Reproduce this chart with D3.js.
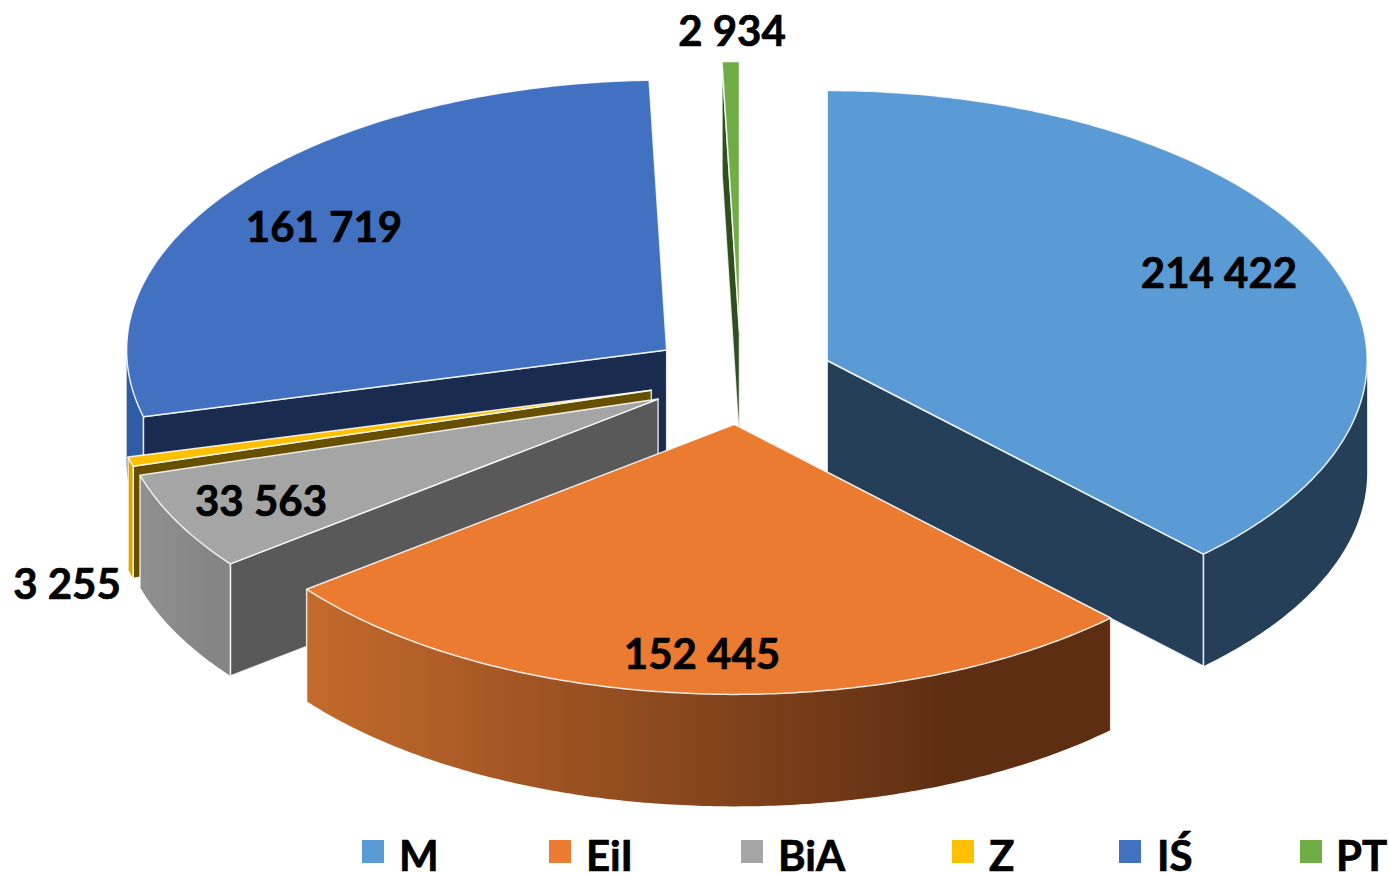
<!DOCTYPE html>
<html>
<head>
<meta charset="utf-8">
<script src="https://d3js.org/d3.v7.min.js"></script>
<style>
  html, body { margin: 0; padding: 0; background: #fff; overflow: hidden; }
  svg { display: block; }
  text { font-family: Lato, "Open Sans", sans-serif; font-weight: 700; fill: #000; stroke: #000; stroke-width: 0.7px; }
</style>
</head>
<body>
<script>
// data
var categories = ["M", "EiI", "BiA", "Z", "IŚ", "PT"];
var values = [214422, 152445, 33563, 3255, 161719, 2934];
var valueLabels = ["214 422", "152 445", "33 563", "3 255", "161 719", "2 934"];

// colours
var topColors = ["#5b9bd5", "#ea7b30", "#a5a5a5", "#ffc000", "#4271c1", "#70ad47"];
var sideColors = ["#243f57", "#5e2e12", "#595959", "#665000", "#1a2b50", "#2f4f1e"];
var wallFrom = ["#243f57", "#c46a2c", "#909090", "#e3ab00", "#2f5ca6", "#2f4f1e"];
var wallTo = ["#243f57", "#5e2e12", "#858585", "#d9a300", "#2f5ca6", "#2f4f1e"];

// layout
var width = 1389, height = 873;
var cx = 741, cy = 378;      // pie centre before explosion
var rx = 540, ry = 270;      // tilted pie ellipse
var depth = 112;
var explode = 93;            // same pull-out for all slices
var labelX = [1219, 702, 261, 67, 324, 732];
var labelY = [272, 653, 500, 583, 226, 30];
var legendX = [362, 549, 741, 952, 1119, 1300];
var legendTextX = [399, 586, 778, 989, 1157, 1336];
var drawOrder = [5, 4, 0, 3, 2, 1];   // back to front

var svg = d3.select("body").append("svg")
  .attr("width", width)
  .attr("height", height);

var defs = svg.append("defs");

var slices = d3.pie().sort(null)(values);

// angle measured clockwise from top
var sx = d3.scaleLinear().domain([-1, 1]).range([-rx, rx]);
var sy = d3.scaleLinear().domain([-1, 1]).range([-ry, ry]);

var line = d3.line();

function apex(s) {
  var mid = (s.startAngle + s.endAngle) / 2;
  return [cx + explode / rx * sx(Math.sin(mid)), cy - explode / rx * sy(Math.cos(mid))];
}

function rim(o, a, dy) {
  return [o[0] + sx(Math.sin(a)), o[1] - sy(Math.cos(a)) + dy];
}

function arcPoints(o, a0, a1, dy) {
  var n = Math.max(2, Math.ceil((a1 - a0) / 0.01));
  return d3.range(n + 1).map(function(i) {
    return rim(o, a0 + (a1 - a0) * i / n, dy);
  });
}

function radialFace(o, a) {
  return [o, rim(o, a, 0), rim(o, a, depth), [o[0], o[1] + depth]];
}

drawOrder.forEach(function(i) {
  var s = slices[i];
  var o = apex(s);
  var g = svg.append("g").attr("class", "slice");

  // flat side faces, just the ones turned to the viewer
  var faces = [];
  if (s.startAngle > Math.PI) faces.push(s.startAngle);
  if (s.endAngle < Math.PI) faces.push(s.endAngle);
  faces.forEach(function(a) {
    g.append("path")
      .attr("d", line(radialFace(o, a)) + "Z")
      .attr("fill", sideColors[i])
      .attr("stroke", "#fff")
      .attr("stroke-width", 1.5)
      .attr("stroke-opacity", 0.8)
      .attr("stroke-linejoin", "round");
  });

  // outer wall, only the part facing the viewer
  var w0 = Math.max(s.startAngle, Math.PI / 2);
  var w1 = Math.min(s.endAngle, Math.PI * 1.5);
  if (w1 > w0) {
    var upper = arcPoints(o, w0, w1, 0);
    var lower = arcPoints(o, w0, w1, depth).reverse();
    var xr = d3.extent(upper, function(p) { return p[0]; });

    var grad = defs.append("linearGradient")
      .attr("id", "wall" + i)
      .attr("gradientUnits", "userSpaceOnUse")
      .attr("x1", xr[0]).attr("x2", xr[1])
      .attr("y1", 0).attr("y2", 0);
    grad.append("stop").attr("offset", 0).attr("stop-color", wallFrom[i]);
    grad.append("stop").attr("offset", 0.8).attr("stop-color", wallTo[i]);

    g.append("path")
      .attr("d", line(upper.concat(lower)) + "Z")
      .attr("fill", "url(#wall" + i + ")");

    // light edges at the wall ends
    [w0, w1].forEach(function(a) {
      if (a == s.startAngle || a == s.endAngle) {
        g.append("path")
          .attr("d", line([rim(o, a, 0), rim(o, a, depth)]))
          .attr("stroke", "#fff")
          .attr("stroke-width", 1.5)
          .attr("stroke-opacity", 0.8);
      }
    });
  }

  // top surface
  g.append("path")
    .attr("d", line([o].concat(arcPoints(o, s.startAngle, s.endAngle, 0))) + "Z")
    .attr("fill", topColors[i])
    .attr("stroke", "#fff")
    .attr("stroke-width", 1.5)
    .attr("stroke-opacity", 0.85)
    .attr("stroke-linejoin", "round");
});

// value labels
svg.selectAll(".value-label")
  .data(valueLabels)
  .enter().append("text")
  .attr("class", "value-label")
  .attr("x", function(d, i) { return labelX[i]; })
  .attr("y", function(d, i) { return labelY[i]; })
  .attr("text-anchor", "middle")
  .attr("dominant-baseline", "central")
  .style("font-size", "42px")
  .text(function(d) { return d; });

// legend
var legend = svg.selectAll(".legend")
  .data(categories)
  .enter().append("g")
  .attr("class", "legend");

legend.append("rect")
  .attr("x", function(d, i) { return legendX[i]; })
  .attr("y", 840)
  .attr("width", 22)
  .attr("height", 23)
  .attr("fill", function(d, i) { return topColors[i]; });

legend.append("text")
  .attr("x", function(d, i) { return legendTextX[i]; })
  .attr("y", 871)
  .style("font-size", "42px")
  .text(function(d) { return d; });
</script>
</body>
</html>
